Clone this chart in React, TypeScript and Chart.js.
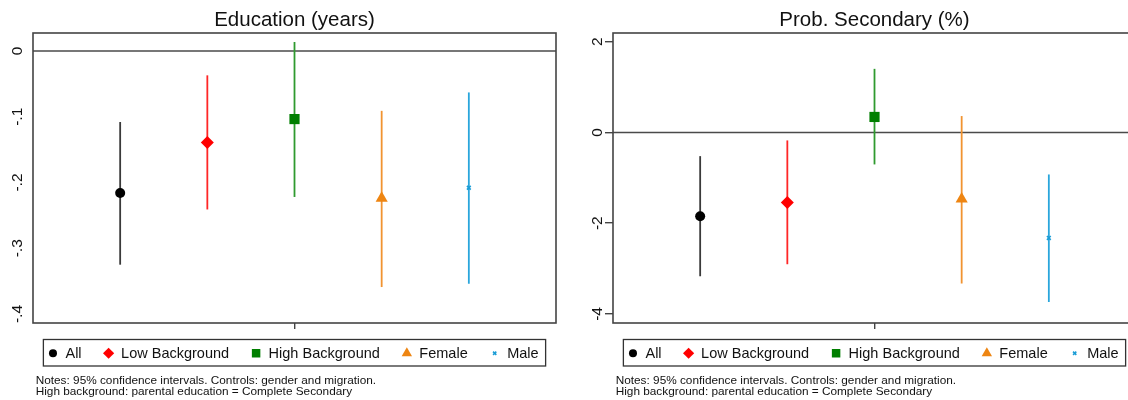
import React, { useEffect, useRef } from 'react';
import { Chart, registerables } from 'chart.js';
import { drawPoint } from 'chart.js/helpers';

Chart.register(...registerables);

// ---------- data ----------
const categories = ['All', 'Low Background', 'High Background', 'Female', 'Male'];

const eduEst = [-0.216, -0.139, -0.1035, -0.224, -0.208];
const eduLow = [-0.325, -0.241, -0.222, -0.359, -0.354];
const eduHigh = [-0.108, -0.037, 0.0137, -0.091, -0.063];
const eduTicks = [0, -0.1, -0.2, -0.3, -0.4];
const eduTickLabels = ['0', '-.1', '-.2', '-.3', '-.4'];

const secEst = [-1.846, -1.545, 0.34, -1.47, -2.325];
const secLow = [-3.17, -2.905, -0.706, -3.33, -3.737];
const secHigh = [-0.523, -0.177, 1.4, 0.36, -0.927];
const secTicks = [2, 0, -2, -4];
const secTickLabels = ['2', '0', '-2', '-4'];

const notes = [
  'Notes: 95% confidence intervals. Controls: gender and migration.',
  'High background: parental education = Complete Secondary',
];

// ---------- style ----------
const FONT = '"Liberation Sans", Arial, Helvetica, sans-serif';
const markerStyles = ['circle', 'rectRot', 'rect', 'triangle', 'crossRot'];
const markerColors = ['#000000', '#ff0000', '#007f00', '#ee8512', '#1b9dd6'];
const lineColors = ['#3a3a3a', '#ff2626', '#2f9a2f', '#f19330', '#2aa6dc'];
const markerRadii = [5, 6.5, 7.2, 7, 2.7];
const markerBorders = [0, 0, 0, 0, 1.6];
const legendRadii = [4, 5.6, 6, 6, 2.3];
const X_MIN = 0;
const X_MAX = 6;

type Spec = {
  title: string;
  est: number[];
  lo: number[];
  hi: number[];
  yMin: number;
  yMax: number;
  ticks: number[];
  tickLabels: string[];
  axisWidth: number;
  padRight: number;
  drawYTicks: boolean;
};

const eduSpec: Spec = {
  title: 'Education (years)',
  est: eduEst,
  lo: eduLow,
  hi: eduHigh,
  yMin: -0.4137,
  yMax: 0.0274,
  ticks: eduTicks,
  tickLabels: eduTickLabels,
  axisWidth: 33,
  padRight: 8,
  drawYTicks: false,
};

const secSpec: Spec = {
  title: 'Prob. Secondary (%)',
  est: secEst,
  lo: secLow,
  hi: secHigh,
  yMin: -4.2,
  yMax: 2.19,
  ticks: secTicks,
  tickLabels: secTickLabels,
  axisWidth: 49,
  padRight: 28,
  drawYTicks: true,
};

function makeChart(canvas: HTMLCanvasElement, spec: Spec) {
  const datasets: any[] = [];
  categories.forEach((c, i) => {
    datasets.push({
      type: 'scatter',
      label: c,
      data: [{ x: i + 1, y: spec.est[i] }],
      pointStyle: markerStyles[i],
      pointRadius: markerRadii[i],
      pointHoverRadius: markerRadii[i],
      pointBackgroundColor: markerColors[i],
      pointBorderColor: markerColors[i],
      pointBorderWidth: markerBorders[i],
      order: 0,
    });
  });
  categories.forEach((c, i) => {
    datasets.push({
      type: 'line',
      label: c + ' CI',
      data: [
        { x: i + 1, y: spec.lo[i] },
        { x: i + 1, y: spec.hi[i] },
      ],
      borderColor: lineColors[i],
      borderWidth: 1.8,
      pointRadius: 0,
      order: 1,
    });
  });
  datasets.push({
    type: 'line',
    label: 'zero',
    data: [
      { x: X_MIN, y: 0 },
      { x: X_MAX, y: 0 },
    ],
    borderColor: '#4a4a4a',
    borderWidth: 1.5,
    pointRadius: 0,
    order: 2,
  });

  const deco = {
    id: 'deco',
    afterDraw(chart: any) {
      const { ctx, chartArea: a, scales } = chart;
      const ys = scales.y;
      const cx = (a.left + a.right) / 2;
      ctx.save();
      // frame
      ctx.strokeStyle = '#444';
      ctx.lineWidth = 1.6;
      ctx.strokeRect(a.left, a.top, a.right - a.left, a.bottom - a.top);

      // title
      ctx.fillStyle = '#111';
      ctx.font = `20.5px ${FONT}`;
      ctx.textAlign = 'center';
      ctx.textBaseline = 'alphabetic';
      ctx.fillText(spec.title, cx, 26);

      // rotated y tick labels
      ctx.font = `15.5px ${FONT}`;
      spec.ticks.forEach((v, i) => {
        const py = ys.getPixelForValue(v);
        ctx.save();
        ctx.translate(a.left - 11.5, py);
        ctx.rotate(-Math.PI / 2);
        ctx.textAlign = 'center';
        ctx.fillText(spec.tickLabels[i], 0, 0);
        ctx.restore();
      });

      // legend box
      ctx.font = `14.5px ${FONT}`;
      const widths = categories.map((c) => ctx.measureText(c).width);
      const markerToText = 12.5;
      const textToMarker = 27;
      const padL = 9.6;
      const padR = 7;
      const content =
        widths.reduce((s, w) => s + w + markerToText, 0) + textToMarker * (categories.length - 1);
      const boxW = padL + content + padR;
      const bx = cx - boxW / 2;
      const by = 339.5;
      const bh = 26.5;
      ctx.strokeStyle = '#333';
      ctx.lineWidth = 1.3;
      ctx.strokeRect(bx, by, boxW, bh);
      let x = bx + padL;
      const my = by + bh / 2 + 0.5;
      categories.forEach((c, i) => {
        ctx.fillStyle = markerColors[i];
        ctx.strokeStyle = markerColors[i];
        ctx.lineWidth = markerBorders[i] || 0;
        drawPoint(
          ctx,
          { pointStyle: markerStyles[i] as any, rotation: 0, radius: legendRadii[i], borderWidth: markerBorders[i] } as any,
          x,
          my
        );
        ctx.fillStyle = '#111';
        ctx.textAlign = 'left';
        ctx.fillText(c, x + markerToText, 358);
        x += markerToText + widths[i] + textToMarker;
      });

      // notes
      ctx.font = `11.8px ${FONT}`;
      ctx.fillStyle = '#111';
      ctx.textAlign = 'left';
      notes.forEach((t, i) => ctx.fillText(t, a.left + 2.7, 384 + i * 11));
      ctx.restore();
    },
  };

  return new Chart(canvas, {
    type: 'scatter',
    data: { datasets },
    plugins: [deco],
    options: {
      animation: false,
      responsive: false,
      events: [],
      layout: { padding: { top: 33, right: spec.padRight, left: 0, bottom: 0 } },
      plugins: {
        legend: { display: false },
        tooltip: { enabled: false },
        title: { display: false },
      },
      scales: {
        x: {
          type: 'linear',
          min: X_MIN,
          max: X_MAX,
          afterBuildTicks: (s: any) => {
            s.ticks = [{ value: 3 }];
          },
          ticks: { display: false, autoSkip: false },
          grid: { display: true, drawOnChartArea: false, drawTicks: true, tickLength: 6, color: '#444', lineWidth: 1.4 },
          border: { display: false },
          afterFit: (s: any) => {
            s.height = 77;
          },
        },
        y: {
          type: 'linear',
          min: spec.yMin,
          max: spec.yMax,
          afterBuildTicks: (s: any) => {
            s.ticks = spec.ticks.map((v) => ({ value: v }));
          },
          ticks: { display: false, autoSkip: false },
          grid: {
            display: spec.drawYTicks,
            drawOnChartArea: false,
            drawTicks: true,
            tickLength: 8,
            color: '#444',
            lineWidth: 1.4,
          },
          border: { display: false },
          afterFit: (s: any) => {
            s.width = spec.axisWidth;
          },
        },
      },
    } as any,
  });
}

function Panel({ spec, left, width }: { spec: Spec; left: number; width: number }) {
  const ref = useRef<HTMLCanvasElement>(null);
  useEffect(() => {
    const chart = makeChart(ref.current as HTMLCanvasElement, spec);
    return () => chart.destroy();
  }, [spec]);
  return (
    <div style={{ position: 'absolute', left, top: 0, width, height: 400 }}>
      <canvas ref={ref} width={width} height={400} style={{ display: 'block', width, height: 400 }} />
    </div>
  );
}

export default function App() {
  return (
    <div
      style={{
        position: 'fixed',
        left: 0,
        top: 0,
        width: 1128,
        height: 400,
        overflow: 'hidden',
        background: '#fff',
      }}
    >
      <Panel spec={eduSpec} left={0} width={564} />
      <Panel spec={secSpec} left={564} width={600} />
    </div>
  );
}
